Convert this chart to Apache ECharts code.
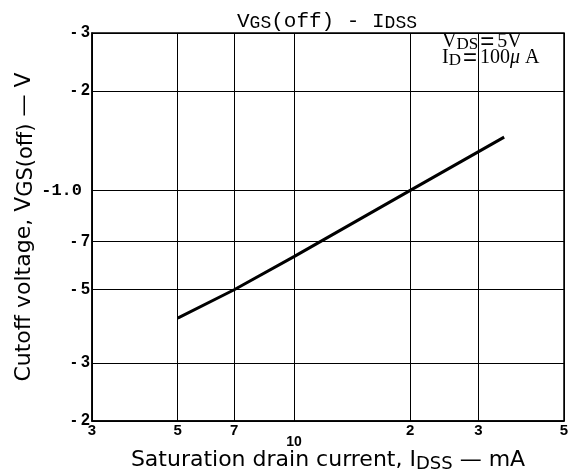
<!DOCTYPE html>
<html>
<head>
<meta charset="utf-8">
<script src="https://cdn.jsdelivr.net/npm/echarts@6/dist/echarts.min.js"></script>
<style>
  html, body { margin: 0; padding: 0; background: #fff; }
  #chart { width: 571px; height: 475px; }
</style>
</head>
<body>
<div id="chart"></div>
<script>
// curve (IDSS in mA, |VGS(off)| in V)
const idss = [5, 7, 10, 20, 35]
const vgsOff = [0.41, 0.5, 0.63, 1.0, 1.45]

// tick positions and their printed labels
const xTicks = [3, 5, 7, 10, 20, 30, 50]
const xLabels = ['3', '5', '7', '{low|10}', '2', '3', '5']
const yTicks = [0.2, 0.3, 0.5, 0.7, 1, 2, 3]
const yLabels = ['- 2', '- 3', '- 5', '- 7', '{mono|-1.0}', '- 2', '- 3']

const pick = (ticks, labels, v) => {
  const i = ticks.findIndex(t => Math.abs(t - v) < t * 1e-6)
  return i < 0 ? '' : labels[i]
}

const chart = echarts.init(document.getElementById('chart'))

const option = {
  animation: false,
  title: {
    text: 'V{s|GS}(off) - I{s|DSS}',
    left: 322,
    textAlign: 'center',
    top: 5,
    textStyle: {
      fontFamily: 'Liberation Mono',
      fontSize: 21,
      fontWeight: 'normal',
      color: '#000',
      rich: {
        s: { fontFamily: 'Liberation Mono', fontSize: 18, color: '#000', padding: [4, 0, 0, 0] },
      },
    },
  },
  grid: {
    left: 92, right: 7, top: 33, bottom: 54,
    outerBoundsMode: 'none',
    containLabel: false,
    show: true, borderColor: '#000', borderWidth: 1.5, backgroundColor: 'transparent',
  },
  xAxis: {
    type: 'log',
    logBase: 10,
    min: 3,
    max: 50,
    name: 'Saturation drain current, I{s|DSS} — mA',
    nameLocation: 'middle',
    nameGap: 27,
    nameMoveOverlap: false,
    nameTextStyle: {
      fontFamily: 'DejaVu Sans',
      fontSize: 22,
      color: '#000',
      rich: { s: { fontFamily: 'DejaVu Sans', fontSize: 18, color: '#000', padding: [7, 0, 0, 0] } },
    },
    axisLine: { show: true, lineStyle: { color: '#000', width: 1.5 } },
    axisTick: { show: false, customValues: xTicks },
    splitLine: { show: true, lineStyle: { color: '#000', width: 1 } },
    minorSplitLine: { show: false },
    axisLabel: {
      customValues: xTicks,
      margin: 2,
      fontFamily: 'Liberation Sans Narrow, Liberation Sans',
      fontWeight: 'bold',
      fontSize: 15,
      color: '#000',
      formatter: v => pick(xTicks, xLabels, v),
      rich: { low: { fontFamily: 'Liberation Sans', fontWeight: 'bold', fontSize: 14, color: '#000', padding: [12, 0, 0, 0] } },
    },
  },
  yAxis: {
    type: 'log',
    logBase: 10,
    min: 0.2,
    max: 3,
    name: 'Cutoff voltage, V{s|GS(off)} — V',
    nameLocation: 'middle',
    nameRotate: 90,
    nameGap: 55,
    nameMoveOverlap: false,
    nameTextStyle: {
      fontFamily: 'DejaVu Sans',
      fontSize: 22,
      color: '#000',
      rich: { s: { fontFamily: 'DejaVu Sans', fontSize: 21, color: '#000', padding: [5, 0, 0, 0] } },
    },
    axisLine: { show: true, lineStyle: { color: '#000', width: 1.5 } },
    axisTick: { show: false, customValues: yTicks },
    splitLine: { show: true, lineStyle: { color: '#000', width: 1 } },
    minorSplitLine: { show: false },
    axisLabel: {
      customValues: yTicks,
      margin: 2,
      fontFamily: 'Liberation Sans Narrow, Liberation Sans',
      fontWeight: 'bold',
      fontSize: 16,
      color: '#000',
      formatter: v => pick(yTicks, yLabels, v),
      rich: { mono: { fontFamily: 'Liberation Mono', fontSize: 17, color: '#000', padding: [0, 8, 0, 0] } },
    },
  },
  graphic: [
    {
      type: 'text',
      left: 442,
      top: 30,
      style: {
        text: 'V{s|DS}{e|=}5V\nI{s|D}{e|=}100{g|μ} A',
        font: '20px "Liberation Serif"',
        fill: '#000',
        lineHeight: 16,
        rich: {
          s: { font: '17px "Liberation Serif"', fill: '#000', padding: [6, 0, 0, 0] },
          e: { font: '24px "Liberation Sans"', fill: '#000', padding: [0, 3, 0, 2] },
          g: { font: 'italic 20px "Liberation Serif"', fill: '#000' },
        },
      },
    },
  ],
  series: [
    {
      type: 'line',
      data: idss.map((x, i) => [x, vgsOff[i]]),
      symbol: 'none',
      lineStyle: { color: '#000', width: 3 },
    },
  ],
}

chart.setOption(option)
</script>
</body>
</html>
